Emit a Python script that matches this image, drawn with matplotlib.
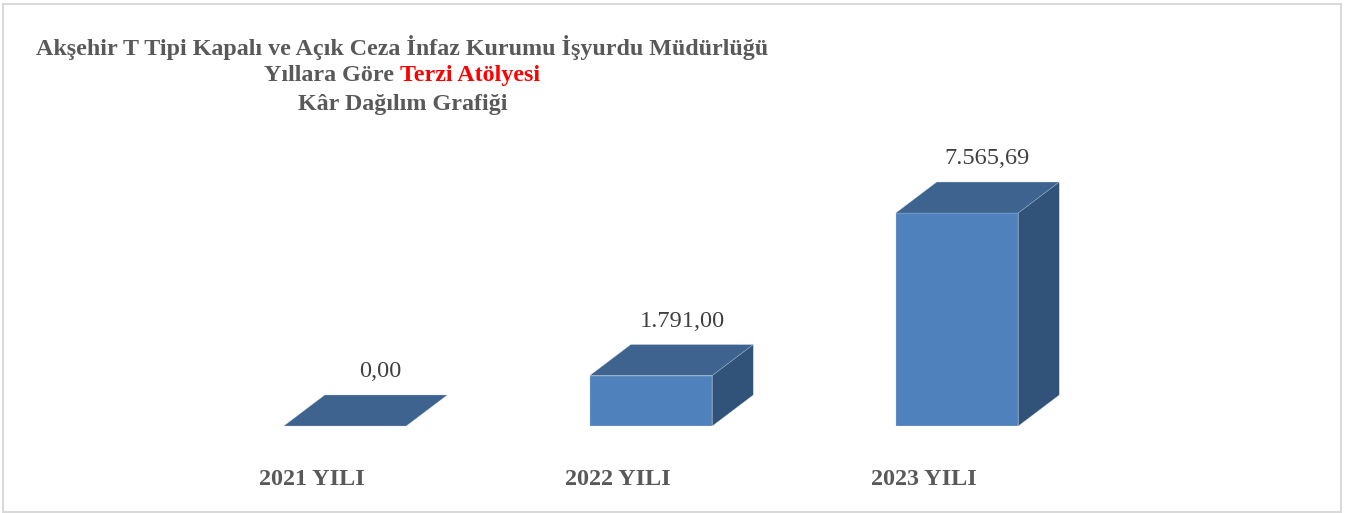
import matplotlib
matplotlib.use("Agg")
import matplotlib.pyplot as plt
from matplotlib.patches import Polygon, Rectangle

categories = ["2021 YILI", "2022 YILI", "2023 YILI"]
values = [0.00, 1791.00, 7565.69]
value_labels = ["0,00", "1.791,00", "7.565,69"]

W, H = 1358, 513
FRONT = "#4F81BD"
TOP = "#3E638F"
SIDE = "#325379"
GREY = "#595959"

plt.rcParams["font.family"] = ["Liberation Serif", "DejaVu Serif"]

fig = plt.figure(figsize=(W / 100, H / 100), dpi=100, facecolor="white")
fig.add_artist(Rectangle((3 / W, 1 - 512 / H), 1338 / W, 508 / H, transform=fig.transFigure,
                         facecolor="white", edgecolor="#D9D9D9", linewidth=1.5, zorder=-1))

# one category = 306 px, y scale so that 7565.69 is 213 px tall
ax = fig.add_axes([192 / W, 1 - 426 / H, 918 / W, 281.5 / H])
ax.set_xlim(-0.5, 2.5)
ax.set_ylim(0, 10000)
ax.axis("off")

width = 122.5 / 306
depth_x = 41 / 306
depth_y = 31 / 281.5 * 10000

xs = range(len(categories))
bars = ax.bar(xs, values, width=width, color=FRONT, edgecolor="#BCD0E8", linewidth=0.2, zorder=2)

for bar in bars:
    x0, x1 = bar.get_x(), bar.get_x() + bar.get_width()
    h = bar.get_height()
    ax.add_patch(Polygon([(x0, h), (x1, h), (x1 + depth_x, h + depth_y), (x0 + depth_x, h + depth_y)],
                         facecolor=TOP, edgecolor="#BCD0E8", linewidth=0.2, clip_on=False, zorder=3))
    if h > 0:
        ax.add_patch(Polygon([(x1, 0), (x1 + depth_x, depth_y), (x1 + depth_x, h + depth_y), (x1, h)],
                             facecolor=SIDE, edgecolor="#BCD0E8", linewidth=0.2, clip_on=False, zorder=3))

# value labels and category names sit off-centre like in the original
label_dx = [35, 31, 30]
for x, v, txt, dx in zip(xs, values, value_labels, label_dx):
    ax.annotate(txt, (x, v), xytext=(dx * 0.72, 54.5 * 0.72), textcoords="offset points",
                ha="center", va="center", fontsize=17.6, color="#404040", annotation_clip=False)
for x, name in zip(xs, categories):
    ax.annotate(name, (x, 0), xytext=(-33 * 0.72, -54 * 0.72), textcoords="offset points",
                ha="center", va="center", fontsize=17.4, fontweight="bold", color=GREY, annotation_clip=False)

# title, middle line has a red part so it is placed in two pieces
title_size = 17.3
cx = 402.5 / W
fig.text(cx, 1 - 48 / H, "Akşehir T Tipi Kapalı ve Açık Ceza İnfaz Kurumu İşyurdu Müdürlüğü",
         ha="center", va="center", fontsize=title_size, fontweight="bold", color=GREY)
fig.text(cx, 1 - 104.5 / H, "Kâr Dağılım Grafiği",
         ha="center", va="center", fontsize=title_size, fontweight="bold", color=GREY)

fig.canvas.draw()
r = fig.canvas.get_renderer()
y2 = 1 - 81 / H
left = fig.text(0, y2, "Yıllara Göre", fontsize=title_size, fontweight="bold", color=GREY, va="baseline")
right = fig.text(0, y2, "Terzi Atölyesi", fontsize=title_size, fontweight="bold", color="#FF0000", va="baseline")
space = 6
wl = left.get_window_extent(r).width
wr = right.get_window_extent(r).width
start = 402.5 - (wl + space + wr) / 2
left.set_x(start / W)
right.set_x((start + wl + space) / W)

fig.savefig("out.png", dpi=100, facecolor="white")
